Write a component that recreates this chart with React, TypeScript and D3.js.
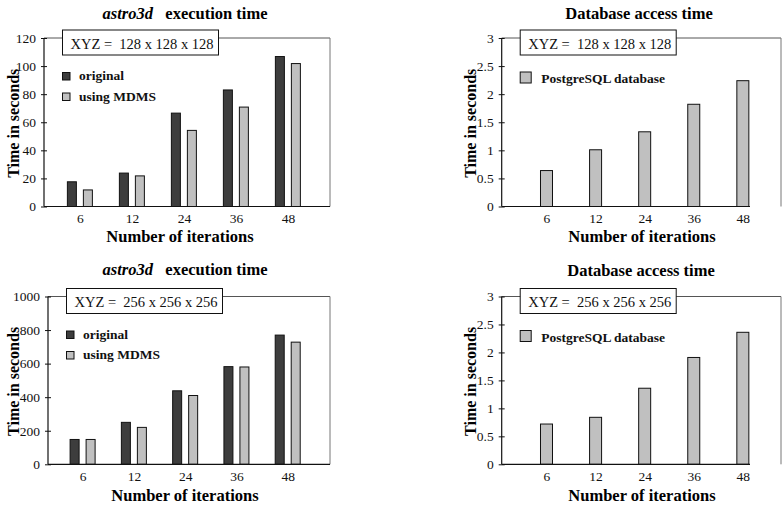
import React, { useEffect, useRef } from 'react';
import * as d3 from 'd3';

// categories and values
const iterations = ['6', '12', '24', '36', '48'];
const original128 = [17.6, 23.8, 66.5, 83, 106.8];
const mdms128 = [11.8, 21.8, 54.2, 70.8, 101.8];
const original256 = [148, 250, 438, 582, 770];
const mdms256 = [148, 220, 410, 580, 728];
const postgres128 = [0.64, 1.01, 1.33, 1.82, 2.24];
const postgres256 = [0.72, 0.84, 1.36, 1.91, 2.36];

const ticksExec128 = [0, 20, 40, 60, 80, 100, 120];
const ticksExec256 = [0, 200, 400, 600, 800, 1000];
const ticksDb = [0, 0.5, 1, 1.5, 2, 2.5, 3];

const FONT = "'Liberation Serif', 'Times New Roman', serif";
const DARK = '#3d3d3d';
const LIGHT = '#c0c0c0';

type Series = { name: string; values: number[]; fill: string };

type PanelCfg = {
  italic?: string;
  title: string;
  xyz: string;
  series: Series[];
  yTicks: number[];
  yMax: number;
  left: number; right: number; top: number; bottom: number;
  bottomEnd?: number;
  padding: number; align: number;
  barW: number; barGap: number;
  legendSize: number;
  titleX: number; titleY: number;
  xLabelX: number; xLabelY: number;
  yLabelX: number;
};

const panels: PanelCfg[] = [
  {
    italic: 'astro3d', title: 'execution time', xyz: 'XYZ =  128 x 128 x 128',
    series: [
      { name: 'original', values: original128, fill: DARK },
      { name: 'using MDMS', values: mdms128, fill: LIGHT },
    ],
    yTicks: ticksExec128, yMax: 120,
    left: 44, right: 330, top: 38, bottom: 206.5,
    padding: 0.75, align: 0.46, barW: 9, barGap: 7, legendSize: 7.5,
    titleX: 185, titleY: 18.5, xLabelX: 180, xLabelY: 242, yLabelX: 13,
  },
  {
    title: 'Database access time', xyz: 'XYZ =  128 x 128 x 128',
    series: [{ name: 'PostgreSQL database', values: postgres128, fill: LIGHT }],
    yTicks: ticksDb, yMax: 3,
    left: 501.7, right: 781, top: 38, bottom: 206.5, bottomEnd: 750,
    padding: 0.845, align: 0.54, barW: 12, barGap: 0, legendSize: 11,
    titleX: 639, titleY: 18.5, xLabelX: 642, xLabelY: 242, yLabelX: 470,
  },
  {
    italic: 'astro3d', title: 'execution time', xyz: 'XYZ =  256 x 256 x 256',
    series: [
      { name: 'original', values: original256, fill: DARK },
      { name: 'using MDMS', values: mdms256, fill: LIGHT },
    ],
    yTicks: ticksExec256, yMax: 1000,
    left: 48, right: 330, top: 296.5, bottom: 464.3,
    padding: 0.75, align: 0.45, barW: 9, barGap: 7, legendSize: 7.5,
    titleX: 185, titleY: 275, xLabelX: 185, xLabelY: 501, yLabelX: 13,
  },
  {
    title: 'Database access time', xyz: 'XYZ =  256 x 256 x 256',
    series: [{ name: 'PostgreSQL database', values: postgres256, fill: LIGHT }],
    yTicks: ticksDb, yMax: 3,
    left: 501.7, right: 781, top: 296.5, bottom: 464.3, bottomEnd: 750,
    padding: 0.845, align: 0.54, barW: 12, barGap: 0, legendSize: 11,
    titleX: 641, titleY: 275.5, xLabelX: 642, xLabelY: 501, yLabelX: 470,
  },
];

function drawPanel(svg: d3.Selection<SVGSVGElement, unknown, null, undefined>, p: PanelCfg) {
  const g = svg.append('g').style('font-family', FONT);

  const x = d3.scalePoint<string>()
    .domain(iterations)
    .range([p.left, p.right])
    .padding(p.padding)
    .align(p.align);

  const y = d3.scaleLinear().domain([0, p.yMax]).range([p.bottom, p.top]);

  // title
  const title = g.append('text')
    .attr('x', p.titleX).attr('y', p.titleY)
    .attr('text-anchor', 'middle')
    .style('font-size', '16.5px').style('font-weight', 'bold')
    .attr('xml:space', 'preserve');
  if (p.italic) {
    title.append('tspan').style('font-style', 'italic').text(p.italic);
    title.append('tspan').text('   ' + p.title);
  } else {
    title.text(p.title);
  }

  // frame: top and right in grey, axes in black
  g.append('line')
    .attr('x1', p.left).attr('x2', p.right).attr('y1', p.top).attr('y2', p.top)
    .attr('stroke', '#555').attr('stroke-width', 1);
  g.append('line')
    .attr('x1', p.right).attr('x2', p.right).attr('y1', p.top).attr('y2', p.bottom)
    .attr('stroke', '#777').attr('stroke-width', 1);

  // bars
  const n = p.series.length;
  p.series.forEach((s, si) => {
    const off = (si - (n - 1) / 2) * (p.barW + p.barGap);
    g.append('g').selectAll('rect')
      .data(s.values)
      .join('rect')
      .attr('x', (d, i) => (x(iterations[i]) as number) + off - p.barW / 2)
      .attr('y', d => y(d))
      .attr('width', p.barW)
      .attr('height', d => p.bottom - y(d))
      .attr('fill', s.fill)
      .attr('stroke', '#111')
      .attr('stroke-width', 1);
  });

  // y axis
  const yAxis = d3.axisLeft(y)
    .tickValues(p.yTicks)
    .tickSize(3)
    .tickPadding(5)
    .tickFormat(d => String(d));
  const ya = g.append('g').attr('transform', `translate(${p.left},0)`).call(yAxis);
  ya.select('.domain').remove();
  ya.selectAll('line').attr('x2', -3).attr('x1', 3).attr('stroke', '#111');
  ya.selectAll('text').style('font-family', FONT).style('font-size', '13.5px').attr('fill', '#111');

  // x axis
  const xAxis = d3.axisBottom(x).tickSize(0).tickPadding(7);
  const xa = g.append('g').attr('transform', `translate(0,${p.bottom})`).call(xAxis);
  xa.select('.domain').remove();
  xa.selectAll('text').style('font-family', FONT).style('font-size', '13.5px').attr('fill', '#111');

  g.append('line')
    .attr('x1', p.left).attr('x2', p.left).attr('y1', p.top).attr('y2', p.bottom)
    .attr('stroke', '#111').attr('stroke-width', 1.2);
  g.append('line')
    .attr('x1', p.left).attr('x2', p.bottomEnd ?? p.right).attr('y1', p.bottom).attr('y2', p.bottom)
    .attr('stroke', '#111').attr('stroke-width', 1.2);

  // XYZ label box
  const bx = p.left + 18.5;
  g.append('rect')
    .attr('x', bx).attr('y', p.top - 8)
    .attr('width', 156).attr('height', 25)
    .attr('fill', 'white').attr('stroke', '#111').attr('stroke-width', 1);
  g.append('text')
    .attr('x', bx + 8).attr('y', p.top + 10.5)
    .attr('xml:space', 'preserve')
    .style('font-size', '14.5px').attr('fill', '#111')
    .text(p.xyz);

  // legend
  const legendBase = n > 1 ? p.top + 42 : p.top + 45;
  p.series.forEach((s, si) => {
    const ly = legendBase + si * 20.5;
    g.append('rect')
      .attr('x', bx).attr('y', ly - p.legendSize)
      .attr('width', p.legendSize).attr('height', p.legendSize)
      .attr('fill', s.fill).attr('stroke', '#111').attr('stroke-width', 1);
    g.append('text')
      .attr('x', bx + p.legendSize + (n > 1 ? 9 : 10)).attr('y', ly)
      .style('font-size', '13.5px').style('font-weight', 'bold').attr('fill', '#111')
      .text(s.name);
  });

  // axis titles
  g.append('text')
    .attr('x', p.xLabelX).attr('y', p.xLabelY)
    .attr('text-anchor', 'middle')
    .style('font-size', '16.5px').style('font-weight', 'bold')
    .text('Number of iterations');
  const cy = (p.top + p.bottom) / 2 + 1;
  g.append('text')
    .attr('transform', `translate(${p.yLabelX},${cy}) rotate(-90)`)
    .attr('text-anchor', 'middle')
    .attr('dominant-baseline', 'central')
    .style('font-size', '16px').style('font-weight', 'bold')
    .text('Time in seconds');
}

export default function App() {
  const svgRef = useRef<SVGSVGElement>(null);

  useEffect(() => {
    if (!svgRef.current) return;
    const svg = d3.select(svgRef.current);
    svg.selectAll('*').remove();
    panels.forEach(p => drawPanel(svg, p));
  }, []);

  return (
    <svg
      ref={svgRef}
      width={782}
      height={506}
      style={{ position: 'absolute', left: 0, top: 0, background: 'white' }}
    />
  );
}
